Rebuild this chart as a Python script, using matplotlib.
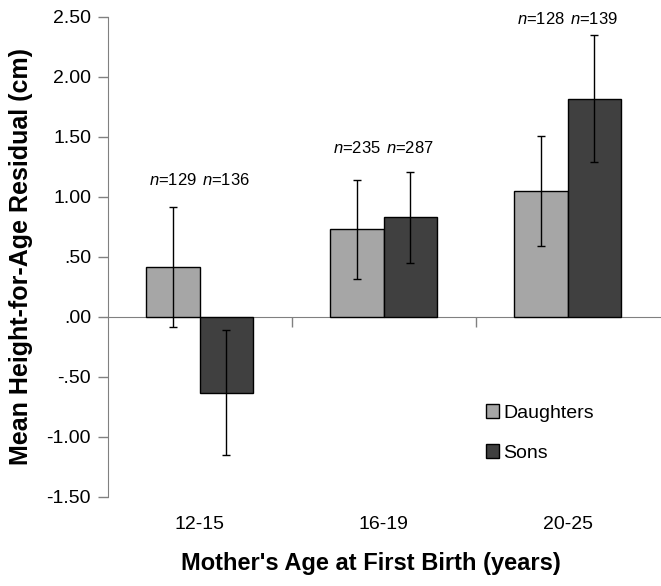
import matplotlib
matplotlib.use("Agg")
import matplotlib.pyplot as plt
import numpy as np

plt.rcParams['font.family'] = ['Liberation Sans', 'DejaVu Sans']
plt.rcParams['mathtext.fontset'] = 'custom'
plt.rcParams['mathtext.it'] = 'Liberation Sans:italic'
plt.rcParams['mathtext.rm'] = 'Liberation Sans'

groups = ['12-15', '16-19', '20-25']
daughters = [0.42, 0.73, 1.05]
daughters_err = [0.50, 0.41, 0.46]
sons = [-0.63, 0.83, 1.82]
sons_err = [0.52, 0.38, 0.53]
n_daughters = [129, 235, 128]
n_sons = [136, 287, 139]
label_y = [1.14, 1.41, 2.48]

fig = plt.figure(figsize=(6.61, 5.86), dpi=100)
ax = fig.add_axes([0.163, 0.152, 0.835, 0.819])

x = np.arange(len(groups))
w = 0.29
ax.bar(x - w / 2, daughters, w, color='#A6A6A6', edgecolor='black', linewidth=1.0,
       label='Daughters', zorder=2)
ax.bar(x + w / 2, sons, w, color='#404040', edgecolor='black', linewidth=1.0,
       label='Sons', zorder=2)
ax.errorbar(x - w / 2, daughters, yerr=daughters_err, fmt='none', ecolor='black',
            elinewidth=1.0, capsize=3, zorder=3)
ax.errorbar(x + w / 2, sons, yerr=sons_err, fmt='none', ecolor='black',
            elinewidth=1.0, capsize=3, zorder=3)

for i in range(len(groups)):
    ax.text(x[i] - w / 2, label_y[i], r'$\it{n}$=%d' % n_daughters[i],
            ha='center', va='center', fontsize=12)
    ax.text(x[i] + w / 2, label_y[i], r'$\it{n}$=%d' % n_sons[i],
            ha='center', va='center', fontsize=12)

ax.set_xlim(-0.5, 2.5)
ax.set_ylim(-1.5, 2.5)
yt = np.arange(-1.5, 2.51, 0.5)
ax.set_yticks(yt)
ax.set_yticklabels([('%.2f' % v).replace('0.', '.') if abs(v) < 1 else '%.2f' % v
                    for v in yt])
ax.set_xticks(x)
ax.set_xticklabels(groups)
ax.tick_params(axis='x', length=0, pad=14, labelsize=14)
ax.tick_params(axis='y', length=7, width=1, color='#808080', labelsize=14, pad=5)

for s in ['top', 'right', 'bottom']:
    ax.spines[s].set_visible(False)
ax.spines['left'].set_color('#808080')

# zero line with group dividers
zero = ax.secondary_xaxis(1.5 / 4.0)
zero.set_xticks([0.5, 1.5])
zero.set_xticklabels(['', ''])
zero.tick_params(length=7, width=1, color='#808080')
zero.spines['bottom'].set_color('#808080')

ax.set_ylabel('Mean Height-for-Age Residual (cm)', fontsize=18, fontweight='bold',
              labelpad=10)
ax.set_xlabel("Mother's Age at First Birth (years)", fontsize=17, fontweight='bold',
              labelpad=14)
ax.xaxis.set_label_coords(0.477, -0.115)

ax.legend(loc='upper left', bbox_to_anchor=(0.671, 0.21), frameon=False, fontsize=14,
          handlelength=0.7, handleheight=0.7, handletextpad=0.2, labelspacing=1.15,
          borderaxespad=0)

fig.savefig('out.png', dpi=100)
